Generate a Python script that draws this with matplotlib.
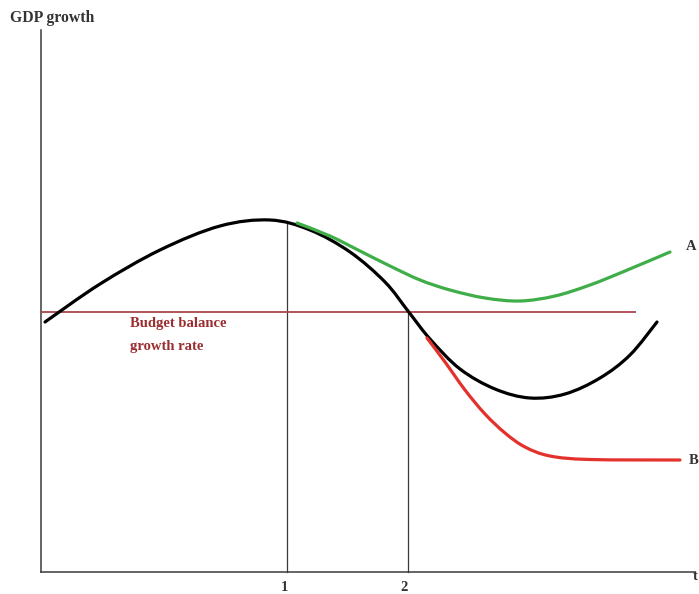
import matplotlib
matplotlib.use("Agg")
import matplotlib.pyplot as plt
from matplotlib.path import Path
from matplotlib.patches import PathPatch
import numpy as np

# schematic curves (time, GDP growth), origin at the axes corner
base_t = [4, 59, 119, 179, 229, 269, 309, 344, 367, 389, 419, 454, 489, 524, 559, 589, 616]
base_g = [250, 288, 322, 346, 352, 342, 320, 290, 261, 233, 203, 183, 174, 178, 194, 217, 250]

a_t = [256, 289, 319, 349, 379, 409, 444, 479, 514, 549, 584, 629]
a_g = [349, 336, 321, 306, 292, 282, 274, 271, 276, 287, 301, 320]

b_t = [386, 404, 424, 444, 464, 484, 509, 549, 639]
b_g = [234, 210, 182, 158, 139, 125, 116, 112.5, 112]

budget_g = 260
budget_span = [1, 594]
t1, t2 = 246, 367
g1, g2 = 350, 260

plt.rcParams['font.family'] = ['Liberation Serif', 'DejaVu Serif']


def smooth_path(xs, ys):
    # catmull-rom through the points, drawn as cubic bezier segments
    p = np.column_stack([xs, ys]).astype(float)
    n = len(p)
    verts = [p[0]]
    codes = [Path.MOVETO]
    for i in range(n - 1):
        p0 = p[i - 1] if i > 0 else p[i]
        p3 = p[i + 2] if i + 2 < n else p[i + 1]
        c1 = p[i] + (p[i + 1] - p0) / 6
        c2 = p[i + 1] - (p3 - p[i]) / 6
        verts += [c1, c2, p[i + 1]]
        codes += [Path.CURVE4] * 3
    return Path(verts, codes)


def draw_curve(ax, xs, ys, color, z):
    ax.add_patch(PathPatch(smooth_path(xs, ys), fill=False, edgecolor=color,
                           lw=2.3, capstyle='round', zorder=z))


fig = plt.figure(figsize=(6.99, 5.94), dpi=100)
ax = fig.add_axes([0, 0, 1, 1])
ax.set_xlim(-41, 658)
ax.set_ylim(-22, 572)
ax.axis('off')

axcol = '#3a3a3a'
ax.plot([0, 0], [0, 542], color=axcol, lw=1.1)
ax.plot([0, 654], [0, 0], color=axcol, lw=1.1)

ax.plot([t1, t1], [0, g1], color=axcol, lw=0.9)
ax.plot([t2, t2], [0, g2], color=axcol, lw=0.9)

ax.plot(budget_span, [budget_g, budget_g], color='#a8474a', lw=1.3)

draw_curve(ax, base_t, base_g, 'black', 3)
draw_curve(ax, a_t, a_g, '#3fae49', 4)
draw_curve(ax, b_t, b_g, '#e3312b', 4)

txt = dict(fontweight='bold', fontsize=10.5)
ax.text(-31, 550, 'GDP growth', color='#333333', ha='left', va='baseline',
        fontweight='bold', fontsize=11.3)
ax.text(89, 245, 'Budget balance', color='#9b2d30', ha='left', va='baseline', **txt)
ax.text(89, 222, 'growth rate', color='#9b2d30', ha='left', va='baseline', **txt)
ax.text(t1 - 3, -19, '1', color='#333333', ha='center', va='baseline', **txt)
ax.text(t2 - 4, -19, '2', color='#333333', ha='center', va='baseline', **txt)
ax.text(645, 325, 'A', color='#333333', ha='left', va='center', **txt)
ax.text(648, 111, 'B', color='#333333', ha='left', va='center', **txt)
ax.text(652, -4, 't', color='#333333', ha='left', va='center', **txt)

fig.savefig('out.png', dpi=100)
